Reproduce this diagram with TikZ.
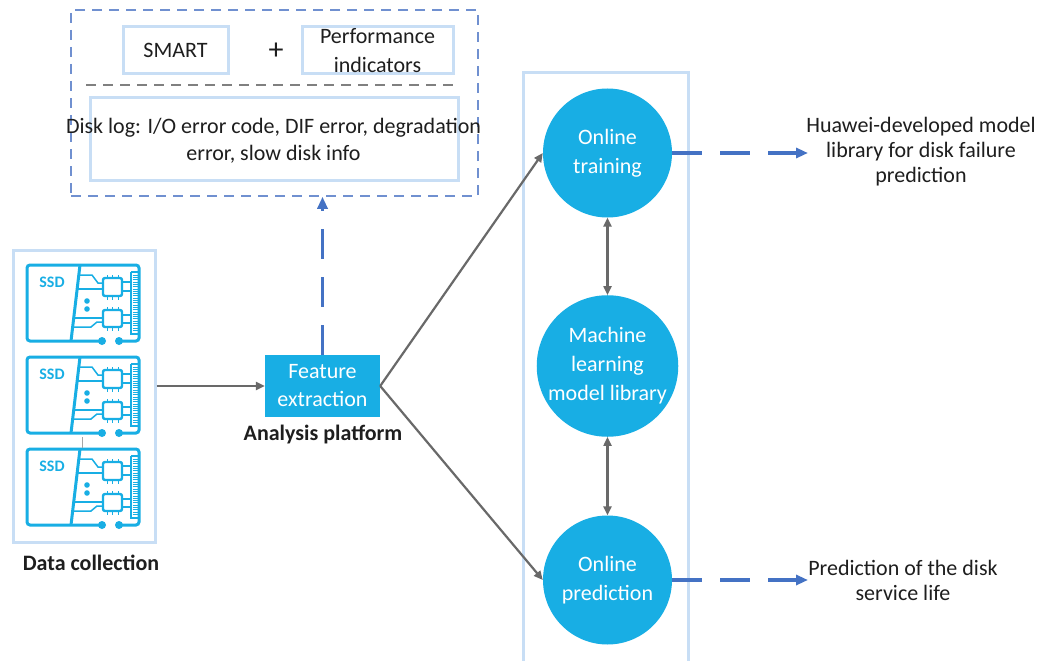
\documentclass[tikz,border=0pt]{standalone}
\usepackage{fontspec}
\setmainfont{Carlito}
\usetikzlibrary{arrows.meta}

\definecolor{cyanfill}{RGB}{24,174,228}
\definecolor{paleblue}{RGB}{200,222,245}
\definecolor{dashblue}{RGB}{112,144,208}
\definecolor{arrowblue}{RGB}{68,114,196}
\definecolor{linegray}{RGB}{105,105,105}
\definecolor{sepgray}{RGB}{128,128,128}
\definecolor{textdark}{RGB}{30,30,30}

\tikzset{
  txt/.style={font=\fontsize{22}{29}\selectfont, text=textdark, inner sep=0pt, align=center},
  boldtxt/.style={font=\bfseries\fontsize{22}{29}\selectfont, text=textdark, inner sep=0pt},
  sidetxt/.style={font=\fontsize{22}{25}\selectfont, text=textdark, inner sep=0pt, align=center},
  panel/.style={draw=paleblue, line width=3pt, inner sep=0pt},
  groupbox/.style={draw=dashblue, line width=1.5pt, dash pattern=on 10pt off 7pt, inner sep=0pt},
  sepline/.style={draw=sepgray, line width=1.5pt, dash pattern=on 10pt off 7pt},
  bluebox/.style={fill=cyanfill, inner sep=0pt, align=center, text=white,
                  font=\fontsize{22}{28}\selectfont},
  stage/.style={circle, fill=cyanfill, minimum size=129pt, inner sep=0pt, align=center,
                text=white, font=\fontsize{22}{29}\selectfont},
  garrow/.style={draw=linegray, line width=2.2pt, -{Triangle[length=9pt,width=8pt]}},
  gdouble/.style={draw=linegray, line width=2.2pt,
                  {Triangle[length=9pt,width=8pt]}-{Triangle[length=9pt,width=8pt]}},
  barrow/.style={draw=arrowblue, line width=3.5pt, dash pattern=on 30pt off 18pt,
                 -{Triangle[length=12pt,width=10pt]}},
  ssdline/.style={draw=cyanfill, line width=3pt},
  ssdthin/.style={draw=cyanfill, line width=1.5pt},
  % SSD board icon, origin at its top-left corner, 112 x 76
  ssdicon/.pic={
    \draw[ssdline, rounded corners=3pt] (75,76) -- (0,76) -- (0,0) -- (112,0) -- (112,76) -- (92,76);
    \fill[cyanfill] (75,76) circle (4pt);
    \fill[cyanfill] (92,76) circle (4pt);
    \draw[ssdline] (53,0) -- (44,76);
    \node[font=\bfseries\fontsize{16}{16}\selectfont, text=cyanfill, inner sep=0pt] at (25,17) {SSD};
    % chips
    \draw[ssdline, line width=2.4pt, rounded corners=2pt] (76,13) rectangle (95,31);
    \draw[ssdline, line width=2.4pt, rounded corners=2pt] (76,45) rectangle (95,62);
    \foreach \u in {80,85.5,91} {
      \draw[cyanfill, line width=1pt] (\u,13) -- (\u,9.5);
      \draw[cyanfill, line width=1pt] (\u,31) -- (\u,34.5);
      \draw[cyanfill, line width=1pt] (\u,45) -- (\u,41.5);
      \draw[cyanfill, line width=1pt] (\u,62) -- (\u,65.5);
    }
    % traces
    \draw[ssdthin] (52.2,10) -- (65,10) -- (71,18) -- (76,18);
    \draw[ssdthin] (50.4,24) -- (76,24);
    \draw[ssdthin] (46.6,53) -- (76,53);
    \draw[ssdthin] (45.7,62) -- (64,62) -- (70,57) -- (76,57);
    \draw[ssdthin] (95,17) -- (104,17);
    \draw[ssdthin] (95,26) -- (104,26);
    \draw[ssdthin] (95,50) -- (104,50);
    \draw[ssdthin] (95,58) -- (104,58);
    \fill[cyanfill] (60,36) circle (2.8pt);
    \fill[cyanfill] (60,44) circle (2.8pt);
    % edge connector
    \draw[ssdline, line width=2.4pt] (104,7) -- (104,69) -- (112,69);
    \draw[ssdline, line width=2.4pt] (104,7) -- (112,7);
    \foreach \v in {10,12.3,...,67} {
      \draw[cyanfill, line width=0.6pt] (105.5,\v) -- (111,\v);
    }
  }
}

\begin{document}
\begin{tikzpicture}[x=1pt,y=-1pt]
\useasboundingbox[fill=white] (0,0) rectangle (1045,661);

% ---------- feature sources ----------
\node[groupbox, minimum width=407pt, minimum height=186pt] (logbox) at (274.5,103) {};
\node[panel, minimum width=105pt, minimum height=47pt] (smart) at (175.5,50.5) {};
\node[txt] (smarttxt) at (smart.center) {SMART};
\node[txt, font=\fontsize{30}{30}\selectfont] (plus) at (276,51) {+};
\node[panel, minimum width=151pt, minimum height=47pt] (perf) at (377.5,50.5) {};
\node[txt] (perftxt) at (377.5,51) {Performance\\indicators};
\coordinate (sepA) at (86,85);
\coordinate (sepB) at (457,85);
\draw[sepline] (sepA) -- (sepB);
\node[panel, minimum width=368pt, minimum height=82pt] (dlbox) at (274,139) {};
\node[txt, font=\fontsize{22}{27.5}\selectfont] (dltxt) at (273.5,141) {Disk log: I/O error code, DIF error, degradation\\error, slow disk info};

% ---------- data collection ----------
\node[panel, minimum width=142pt, minimum height=292pt] (ssdpanel) at (84,396) {};
\pic at (27,265) {ssdicon};
\pic at (27,357) {ssdicon};
\pic at (27,449) {ssdicon};
\coordinate (tickA) at (82,437);
\coordinate (tickB) at (82,448);
\draw[black!35, line width=0.6pt] (tickA) -- (tickB);
\node[boldtxt] (datacol) at (91,563) {Data collection};

% ---------- analysis platform ----------
\node[bluebox, minimum width=115pt, minimum height=62pt] (feat) at (322.5,386) {Feature\\extraction};
\node[boldtxt] (analysis) at (323,435) {Analysis platform};

% ---------- model column ----------
\coordinate (colA) at (523,661);
\coordinate (colB) at (523,73);
\coordinate (colC) at (688,73);
\coordinate (colD) at (688,661);
\draw[paleblue, line width=3pt] (colA) -- (colB) -- (colC) -- (colD);
\node[stage] (train) at (607.5,153) {Online\\training};
\node[stage] (mll) at (607.5,366) {Machine\\learning\\model library};
\node[stage] (pred) at (607.5,580) {Online\\prediction};

% ---------- outputs ----------
\node[sidetxt] (hw) at (921,152) {Huawei-developed model\\library for disk failure\\prediction};
\node[sidetxt] (life) at (903,580) {Prediction of the disk\\service life};
\coordinate (hwin) at (808,153);
\coordinate (lifein) at (808,580);

% ---------- connectors ----------
\draw[garrow] (ssdpanel.east |- feat.west) -- (feat.west);
\draw[barrow] (feat.north) -- (feat.north |- logbox.south);
\draw[garrow] (feat.east) -- (train.west);
\draw[garrow] (feat.east) -- (pred.west);
\draw[gdouble] (train.south) -- (mll.north);
\draw[gdouble] (mll.south) -- (pred.north);
\draw[barrow] (train.east) -- (hwin);
\draw[barrow] (pred.east) -- (lifein);
\end{tikzpicture}
\end{document}
